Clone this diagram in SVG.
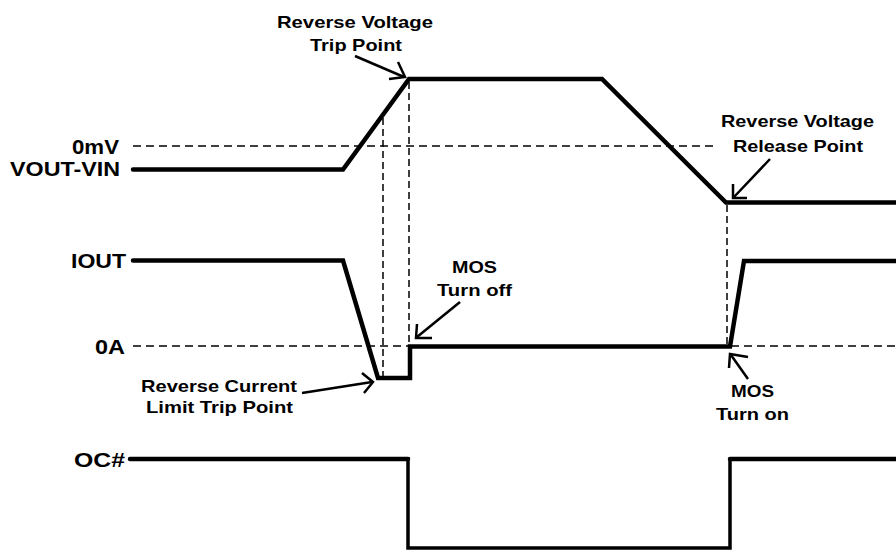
<svg xmlns="http://www.w3.org/2000/svg" width="896" height="551" viewBox="0 0 896 551">
<style>
  .lbl { font-family: "Liberation Sans", Arial, sans-serif; font-weight: bold; fill: #000; }
  .big { font-size: 21px; }
  .ann { font-size: 16.5px; }
  .wave { fill: none; stroke: #000; stroke-width: 4.5; stroke-linejoin: miter; stroke-linecap: round; }
  .dash { fill: none; stroke: #000; stroke-width: 1.5; stroke-dasharray: 8 5; }
  .vdash { fill: none; stroke: #000; stroke-width: 1.5; stroke-dasharray: 7 4; }
  .arr { fill: none; stroke: #000; stroke-width: 2.5; stroke-linecap: butt; stroke-linejoin: miter; }
</style>
<rect width="896" height="551" fill="#fff"/>

<g id="connectors">
  <!-- reference dashed lines -->
  <line class="dash" x1="133" y1="146" x2="716" y2="146"/>
  <line class="dash" x1="133" y1="346" x2="896" y2="346"/>
  <line class="vdash" x1="383" y1="118" x2="383" y2="378"/>
  <line class="vdash" x1="409" y1="82" x2="409" y2="346"/>
  <line class="vdash" x1="727" y1="205" x2="727" y2="346"/>
  <!-- annotation arrows -->
  <g id="arrow-trip">
    <line class="arr" x1="355" y1="56" x2="404" y2="77"/>
    <polyline class="arr" points="398,62 405,77 389,79"/>
  </g>
  <g id="arrow-release">
    <line class="arr" x1="770" y1="159" x2="734" y2="197"/>
    <polyline class="arr" points="733,184 733,198 747,198"/>
  </g>
  <g id="arrow-turnoff">
    <line class="arr" x1="460" y1="302" x2="417" y2="337"/>
    <polyline class="arr" points="417,324 416,338 432,338"/>
  </g>
  <g id="arrow-current">
    <line class="arr" x1="302" y1="393" x2="372" y2="382"/>
    <polyline class="arr" points="362,373 373,382 364,393"/>
  </g>
  <g id="arrow-turnon">
    <line class="arr" x1="748" y1="379" x2="731" y2="355"/>
    <polyline class="arr" points="729,368 730,354 748,357"/>
  </g>
</g>

<g id="vout-vin">
  <text class="lbl big" x="120" y="176" text-anchor="end" textLength="110" lengthAdjust="spacingAndGlyphs">VOUT-VIN</text>
  <text class="lbl big" x="119" y="154" text-anchor="end" textLength="47" lengthAdjust="spacingAndGlyphs">0mV</text>
  <polyline class="wave" points="133,169.5 343,169.5 409,79 602,79 726,202.5 896,202.5"/>
</g>

<g id="iout">
  <text class="lbl big" x="126" y="268" text-anchor="end" textLength="55" lengthAdjust="spacingAndGlyphs">IOUT</text>
  <text class="lbl big" x="125" y="354" text-anchor="end" textLength="30" lengthAdjust="spacingAndGlyphs">0A</text>
  <polyline class="wave" points="133,260.5 343,260.5 378,378 410,378 410,346.5 730,346.5 744,261 896,261"/>
</g>

<g id="oc">
  <text class="lbl big" x="125" y="467" text-anchor="end" textLength="51" lengthAdjust="spacingAndGlyphs">OC#</text>
  <polyline class="wave" points="130,459 408,459" />
  <polyline fill="none" stroke="#000" stroke-width="3.5" points="408,457 408,548 730,548 730,459"/>
  <polyline class="wave" points="730,459 896,459"/>
</g>

<g id="label-trip">
  <text class="lbl ann" x="355" y="28" text-anchor="middle" textLength="156" lengthAdjust="spacingAndGlyphs">Reverse Voltage</text>
  <text class="lbl ann" x="356" y="51" text-anchor="middle" textLength="92" lengthAdjust="spacingAndGlyphs">Trip Point</text>
</g>

<g id="label-release">
  <text class="lbl ann" x="797.5" y="127" text-anchor="middle" textLength="153" lengthAdjust="spacingAndGlyphs">Reverse Voltage</text>
  <text class="lbl ann" x="798" y="152" text-anchor="middle" textLength="130" lengthAdjust="spacingAndGlyphs">Release Point</text>
</g>

<g id="label-turnoff">
  <text class="lbl ann" x="474.5" y="273" text-anchor="middle" textLength="45" lengthAdjust="spacingAndGlyphs">MOS</text>
  <text class="lbl ann" x="474.5" y="296" text-anchor="middle" textLength="75" lengthAdjust="spacingAndGlyphs">Turn off</text>
</g>

<g id="label-current">
  <text class="lbl ann" x="219" y="392" text-anchor="middle" textLength="156" lengthAdjust="spacingAndGlyphs">Reverse Current</text>
  <text class="lbl ann" x="219.5" y="413" text-anchor="middle" textLength="147" lengthAdjust="spacingAndGlyphs">Limit Trip Point</text>
</g>

<g id="label-turnon">
  <text class="lbl ann" x="752.5" y="397" text-anchor="middle" textLength="43" lengthAdjust="spacingAndGlyphs">MOS</text>
  <text class="lbl ann" x="752.5" y="420" text-anchor="middle" textLength="73" lengthAdjust="spacingAndGlyphs">Turn on</text>
</g>
</svg>
